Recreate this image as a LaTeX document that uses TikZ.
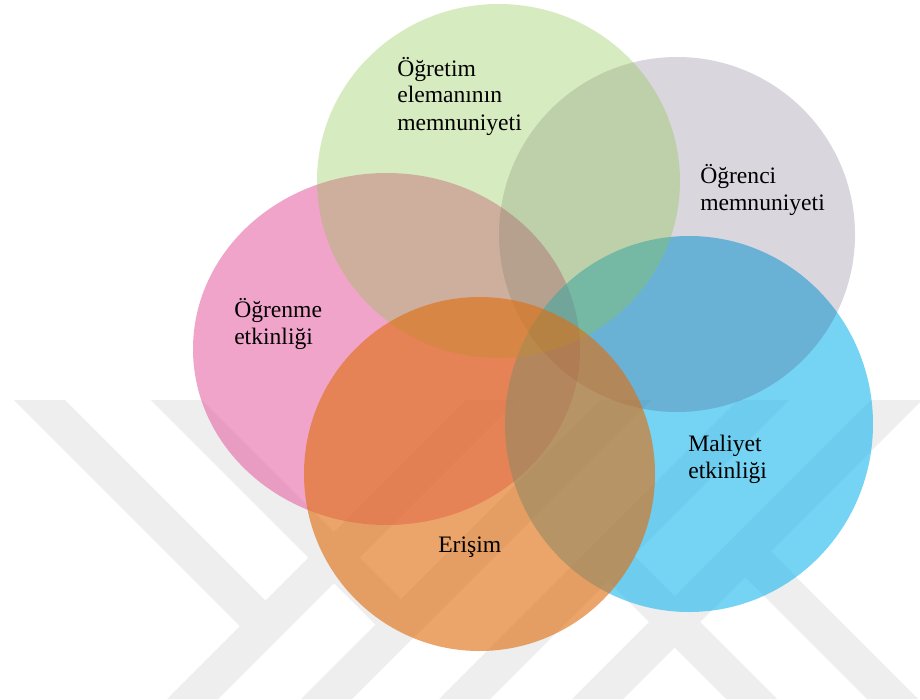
\documentclass[tikz,border=0pt]{standalone}
\usepackage{fontspec}
\setmainfont{Liberation Serif}
\usetikzlibrary{shapes.geometric}

\definecolor{vennpink}{RGB}{229,75,151}
\definecolor{vennblue}{RGB}{25,182,238}
\definecolor{venngray}{RGB}{55,39,81}
\definecolor{venngreen}{RGB}{141,198,75}
\definecolor{vennorange}{RGB}{223,110,15}
\definecolor{markgray}{RGB}{238,238,238}

\tikzset{
  venn/.style={ellipse, draw=none, inner sep=0pt, outer sep=0pt},
  vlabel/.style={anchor=base west, inner sep=0pt, text=black,
    font=\fontsize{17.7pt}{20.25pt}\selectfont},
  band/.style={fill=markgray, draw=none}
}

\begin{document}
\begin{tikzpicture}[x=0.75pt, y=-0.75pt]
  % page
  \fill[white] (0,0) rectangle (920,699);
  \useasboundingbox (0,0) rectangle (920,699);

  % faint background emblem made of diagonal bands
  \begin{scope}
    \clip (0,400) rectangle (920,699);
    \fill[band] (14,400) -- (65,400) -- (265.5,600.5) -- (240,626) -- cycle;
    \fill[band] (151,400) -- (202,400) -- (401,599) -- (375.5,624.5) -- cycle;
    \fill[band] (466,400) -- (517,400) -- (218,699) -- (167,699) -- cycle;
    \fill[band] (600,400) -- (651,400) -- (352,699) -- (301,699) -- cycle;
    \fill[band] (738,400) -- (789,400) -- (490,699) -- (439,699) -- cycle;
    \fill[band] (871,400) -- (922,400) -- (623,699) -- (572,699) -- cycle;
    \fill[band] (582.5,555.5) -- (608,530) -- (777,699) -- (726,699) -- cycle;
    \fill[band] (719.5,551.5) -- (745,526) -- (918,699) -- (867,699) -- cycle;
  \end{scope}

  % translucent sets, back to front
  \node[venn, fill=vennpink, fill opacity=0.5,
        minimum width=290.25pt, minimum height=264pt] (pink) at (386.5,349) {};
  \node[venn, fill=vennblue, fill opacity=0.6,
        minimum width=276pt, minimum height=282pt] (blue) at (689,424) {};
  \node[venn, fill=venngray, fill opacity=0.19,
        minimum width=267pt, minimum height=266.25pt] (gray) at (677,234.5) {};
  \node[venn, fill=venngreen, fill opacity=0.35,
        minimum width=272.25pt, minimum height=265.5pt] (green) at (498.5,181) {};
  \node[venn, fill=vennorange, fill opacity=0.62,
        minimum width=263.25pt, minimum height=265.5pt] (orange) at (479.5,474) {};

  % labels
  \node[vlabel] (staff) at (397,76)
    {\vtop{\hbox{Öğretim}\hbox{elemanının}\hbox{memnuniyeti}}};
  \node[vlabel] (student) at (700,183)
    {\vtop{\hbox{Öğrenci}\hbox{memnuniyeti}}};
  \node[vlabel] (learning) at (234,317)
    {\vtop{\hbox{Öğrenme}\hbox{etkinliği}}};
  \node[vlabel] (cost) at (688,451)
    {\vtop{\hbox{Maliyet}\hbox{etkinliği}}};
  \node[vlabel] (access) at (438,552) {Erişim};
\end{tikzpicture}
\end{document}
